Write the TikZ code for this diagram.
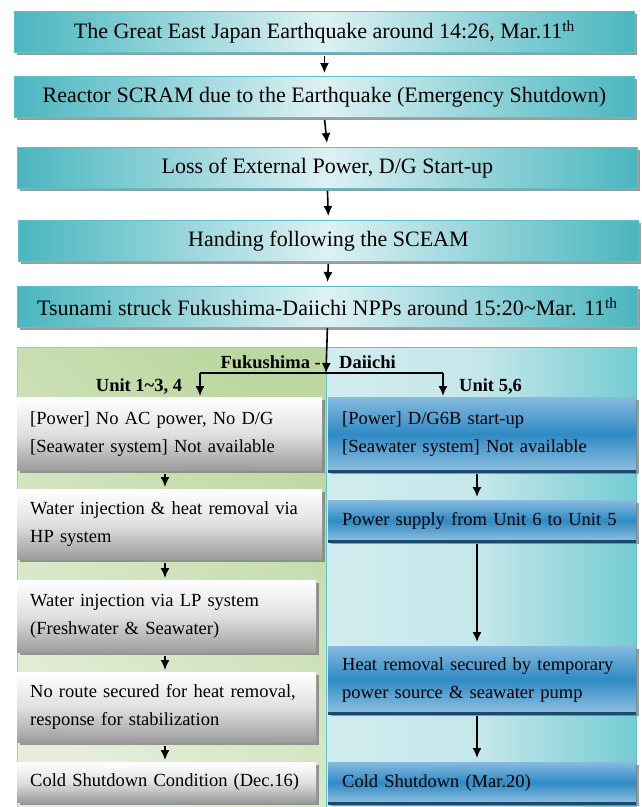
\documentclass[tikz,border=0pt]{standalone}
\usepackage{fontspec}
\setmainfont{Liberation Serif}
\usetikzlibrary{shadows,arrows.meta}

\definecolor{tealEdge}{HTML}{4AB6BF}
\definecolor{tealMid}{HTML}{DDF1F3}
\definecolor{tealLine}{HTML}{5CC2C9}
\definecolor{greenA}{HTML}{E6EEDA}
\definecolor{greenB}{HTML}{BBD8A0}
\definecolor{greenLine}{HTML}{A9D18E}
\definecolor{cyanA}{HTML}{D2ECEF}
\definecolor{cyanB}{HTML}{74CCD2}
\definecolor{cyanLine}{HTML}{5EC4CA}
\definecolor{grayBot}{HTML}{9C9C9C}
\definecolor{grayMid}{HTML}{E0E0E0}
\definecolor{blueTop}{HTML}{86BADF}
\definecolor{blueMid}{HTML}{2F8AC4}
\definecolor{blueBot}{HTML}{8FC0E0}
\definecolor{navy}{HTML}{1C4A6E}

\tikzset{
  boxshadow/.style={drop shadow={shadow xshift=2.5pt, shadow yshift=-2.5pt, fill=black!55, opacity=0.7}},
  stage/.style={draw=tealLine, line width=0.8pt, left color=tealEdge, right color=tealEdge,
    middle color=tealMid, minimum width=620pt, minimum height=41pt, inner sep=0pt,
    font=\fontsize{22}{26}\selectfont, boxshadow},
  greybox/.style={top color=white, bottom color=grayBot, middle color=grayMid,
    inner xsep=13pt, inner ysep=0pt, text width=#1, align=left,
    font=\fontsize{18.5}{28}\selectfont, boxshadow},
  bluebox/.style={top color=blueTop, bottom color=blueBot, middle color=blueMid,
    inner xsep=14pt, inner ysep=0pt, text width=280pt, align=left,
    font=\fontsize{18.5}{28}\selectfont, boxshadow},
  baseline rule/.style={navy, line width=2.5pt},
  unitlabel/.style={font=\bfseries\fontsize{18.5}{20}\selectfont, inner sep=0pt},
  arr/.style={-{Latex[length=10pt,width=9pt]}, line width=1.6pt},
  plain/.style={line width=1.6pt}
}

\begin{document}
\begin{tikzpicture}[x=1pt,y=-1pt]
\useasboundingbox[fill=white] (0,0) rectangle (641,807);

% plant panels
\node (panelL) [anchor=north west, minimum width=309pt, minimum height=460pt, inner sep=0pt,
  draw=greenLine, line width=0.8pt, top color=greenB, bottom color=greenA, shading angle=-40] at (17,347) {};
\node (panelR) [anchor=north west, minimum width=310pt, minimum height=460pt, inner sep=0pt,
  draw=cyanLine, line width=0.8pt, left color=cyanA, right color=cyanB, middle color=cyanA!85!cyanB] at (326,347) {};

% sequence of events
\node (b1) [stage, anchor=north west] at (14,11) {The Great East Japan Earthquake around 14:26, Mar.11\textsuperscript{th}};
\node (b2) [stage, anchor=north west] at (14,76) {Reactor SCRAM due to the Earthquake (Emergency Shutdown)};
\node (b3) [stage, anchor=north west] at (17,147) {Loss of External Power, D/G Start-up};
\node (b4) [stage, anchor=north west] at (18,220) {Handing following the SCEAM};
\node (b5) [stage, anchor=north west] at (17,286) {Tsunami struck Fukushima-Daiichi NPPs around 15:20\textasciitilde Mar. 11\textsuperscript{th}};

\draw[arr, shorten <=3pt, shorten >=3pt] (b1.south) -- (b2.north);
\draw[arr, shorten <=2pt, shorten >=4pt] (b2.south) -- (b3.north);
\draw[arr, shorten <=2pt, shorten >=4pt] (b3.south) -- (b4.north);
\draw[arr, shorten <=2pt, shorten >=4pt] (b4.south) -- (b5.north);

% branch into the two groups of units
\coordinate (fork) at (326,373);
\coordinate (forkL) at (200,373);
\coordinate (forkR) at (443,373);
\node (site1) [unitlabel, anchor=east] at (321,362) {Fukushima -};
\node (site2) [unitlabel, anchor=west] at (339,362) {Daiichi};
\node (grpL) [unitlabel] at (139,387) {Unit 1\textasciitilde 3, 4};
\node (grpR) [unitlabel, anchor=west] at (459,387) {Unit 5,6};

% Units 1-4
\node (l1) [greybox=279pt, anchor=north west, minimum height=73pt] at (17,397)
  {[Power] No AC power, No D/G\\{}[Seawater system] Not available};
\node (l2) [greybox=279pt, anchor=north west, minimum height=70pt] at (17,489)
  {\makebox[279pt][s]{Water injection \& heat removal via}\\HP system};
\node (l3) [greybox=273pt, anchor=north west, minimum height=72pt] at (17,580)
  {Water injection via LP system\\(Freshwater \& Seawater)};
\node (l4) [greybox=273pt, anchor=north west, minimum height=70pt] at (17,672)
  {\makebox[273pt][s]{No route secured for heat removal,}\\response for stabilization};
\node (l5) [greybox=273pt, anchor=north west, minimum height=40pt] at (17,762)
  {Cold Shutdown Condition (Dec.16)};

% Units 5-6
\node (r1) [bluebox, anchor=north west, minimum height=74pt] at (328,397)
  {[Power] D/G6B start-up\\{}[Seawater system] Not available};
\node (r2) [bluebox, anchor=north west, minimum height=41pt] at (328,500)
  {Power supply from Unit 6 to Unit 5};
\node (r3) [bluebox, anchor=north west, minimum height=67pt] at (328,646)
  {\makebox[280pt][s]{Heat removal secured by temporary}\\power source \& seawater pump};
\node (r4) [bluebox, anchor=north west, minimum height=41pt] at (328,762)
  {Cold Shutdown (Mar.20)};

\foreach \n in {r1,r2,r3,r4}
  \draw[baseline rule] (\n.south west) -- (\n.south east);

\coordinate (lx) at (165,0);
\coordinate (rx) at (477,0);

\draw[arr] (b5.south) -- (fork);
\draw[plain] (forkL) -- (forkR);
\draw[arr, shorten >=1pt] (forkL) -- (l1.north -| forkL);
\draw[arr, shorten >=1pt] (forkR) -- (r1.north -| forkR);

\draw[arr, shorten <=4pt, shorten >=2pt] (l1.south -| lx) -- (l2.north -| lx);
\draw[arr, shorten <=4pt, shorten >=2pt] (l2.south -| lx) -- (l3.north -| lx);
\draw[arr, shorten <=4pt, shorten >=2pt] (l3.south -| lx) -- (l4.north -| lx);
\draw[arr, shorten <=4pt, shorten >=2pt] (l4.south -| lx) -- (l5.north -| lx);

\draw[arr, shorten <=3pt, shorten >=3pt] (r1.south -| rx) -- (r2.north -| rx);
\draw[arr, shorten <=3pt, shorten >=4pt] (r2.south -| rx) -- (r3.north -| rx);
\draw[arr, shorten <=3pt, shorten >=4pt] (r3.south -| rx) -- (r4.north -| rx);
\end{tikzpicture}
\end{document}
